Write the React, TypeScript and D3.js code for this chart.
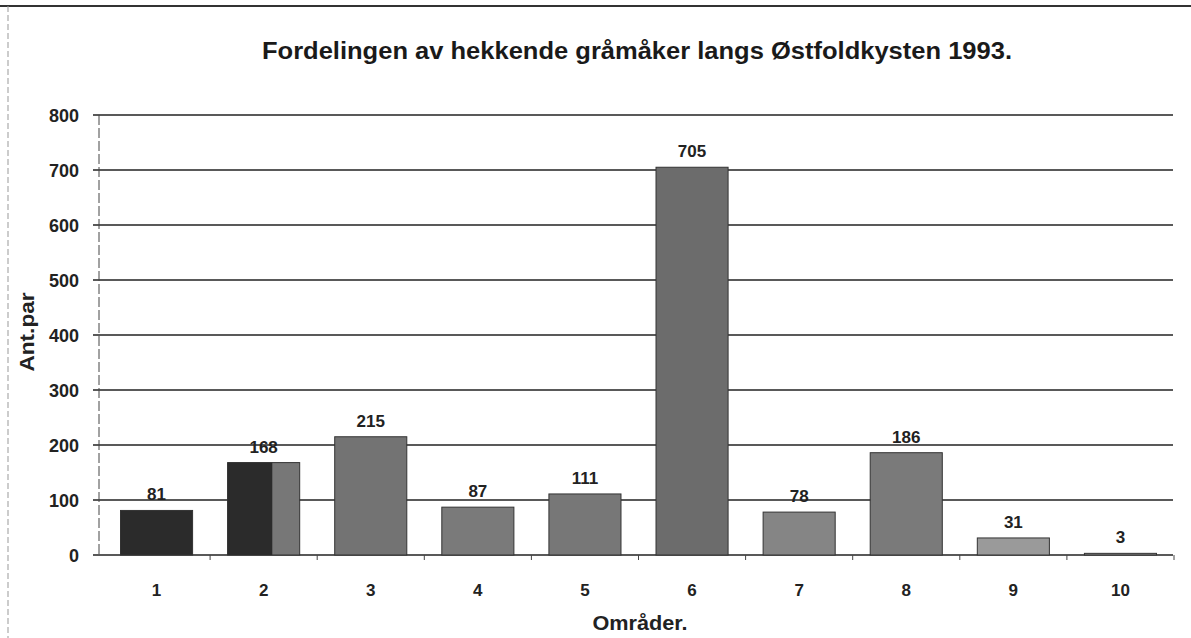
import React from "react";
import * as d3 from "d3";

const categories = ["1", "2", "3", "4", "5", "6", "7", "8", "9", "10"];
const values = [81, 168, 215, 87, 111, 705, 78, 186, 31, 3];
const yTicks = [0, 100, 200, 300, 400, 500, 600, 700, 800];
const barFills = ["#2b2b2b", "#777777", "#737373", "#7a7a7a", "#777777", "#6c6c6c", "#858585", "#7a7a7a", "#9a9a9a", "#8a8a8a"];
const title = "Fordelingen av hekkende gråmåker langs Østfoldkysten 1993.";
const yTitle = "Ant.par";
const xTitle = "Områder.";

export default function App() {
  const W = 1191, H = 638;
  const left = 99, right = 1173, top = 115, bottom = 555;
  const x = d3.scaleBand<string>().domain(categories).range([103, 1174]).paddingInner(0.327).paddingOuter(0.1635);
  const y = d3.scaleLinear().domain([0, 800]).range([bottom, top]);
  const font = "Arial, 'Liberation Sans', sans-serif";
  const step = x.step();
  const x0 = 103;
  return (
    <svg width={W} height={H} style={{ position: "absolute", left: 0, top: 0, background: "#fff" }} fontFamily={font}>
      <rect x={0} y={0} width={W} height={H} fill="#fff" />
      <line x1={0} x2={W} y1={6} y2={6} stroke="#333" strokeWidth={2} />
      <line x1={8} x2={8} y1={6} y2={H} stroke="#999" strokeWidth={1} strokeDasharray="6,3" />
      <text x={637} y={59} textAnchor="middle" fontSize={23} fontWeight="bold" fill="#1a1a1a" textLength={750} lengthAdjust="spacingAndGlyphs">{title}</text>
      {yTicks.map((t) => (
        <g key={t}>
          <line x1={left} x2={right} y1={y(t)} y2={y(t)} stroke="#222" strokeWidth={1.6} />
          <line x1={left - 6} x2={left} y1={y(t)} y2={y(t)} stroke="#222" strokeWidth={1.5} />
          <text x={79} y={y(t) + 7} textAnchor="end" fontSize={18} fontWeight="bold" fill="#222">{t}</text>
        </g>
      ))}
      <line x1={left} x2={left} y1={top} y2={bottom} stroke="#444" strokeWidth={1} strokeDasharray="10,3" />
      {categories.map((c, i) => (
        <line key={"xt" + c} x1={x0 + step * (i + 1)} x2={x0 + step * (i + 1)} y1={bottom} y2={bottom + 5} stroke="#444" strokeWidth={1} />
      ))}
      {categories.map((c, i) => {
        const bx = x(c)!;
        const bw = x.bandwidth();
        const v = values[i];
        return (
          <g key={c}>
            <rect x={bx} y={y(v)} width={bw} height={bottom - y(v)} fill={barFills[i]} stroke="#333" strokeWidth={1} />
            {i === 1 && <rect x={bx} y={y(v)} width={bw * 0.62} height={bottom - y(v)} fill="#2b2b2b" />}
            <text x={bx + bw / 2} y={y(v) - 10} textAnchor="middle" fontSize={17} fontWeight="bold" fill="#222">{v}</text>
            <text x={bx + bw / 2} y={596} textAnchor="middle" fontSize={17} fontWeight="bold" fill="#222">{c}</text>
          </g>
        );
      })}
      <text transform={`translate(34, 332) rotate(-90)`} textAnchor="middle" fontSize={20} fontWeight="bold" fill="#222" textLength={79} lengthAdjust="spacingAndGlyphs">{yTitle}</text>
      <text x={640} y={630} textAnchor="middle" fontSize={20} fontWeight="bold" fill="#222" textLength={95} lengthAdjust="spacingAndGlyphs">{xTitle}</text>
    </svg>
  );
}
